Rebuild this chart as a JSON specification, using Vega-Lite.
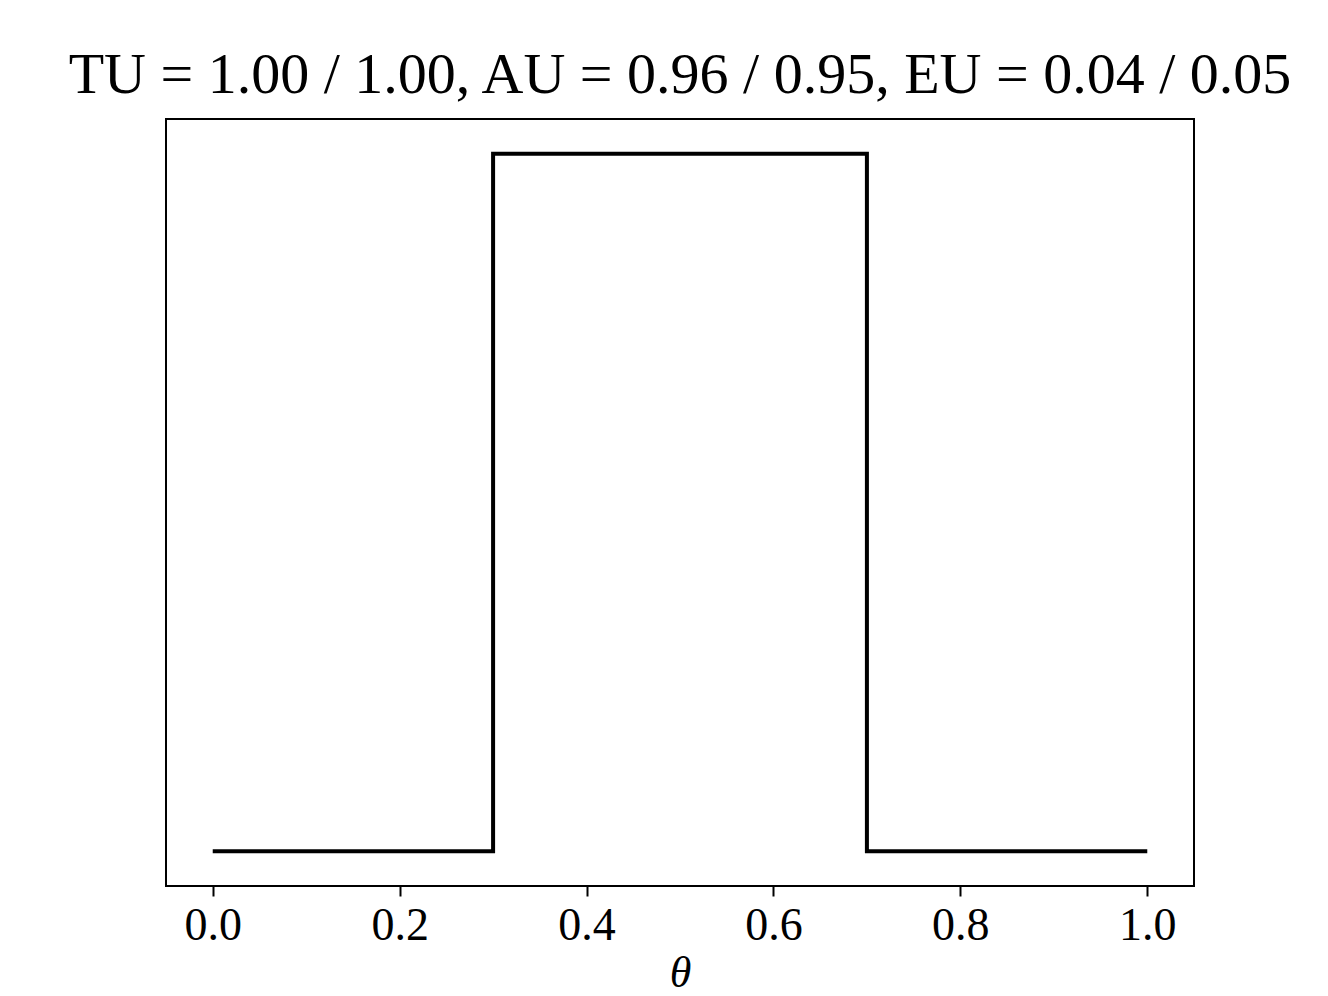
{
  "$schema": "https://vega.github.io/schema/vega-lite/v6.json",
  "autosize": "none",
  "width": 1028,
  "height": 767,
  "padding": {"left": 166, "top": 119, "right": 134, "bottom": 110},
  "background": "white",
  "config": {
    "view": {"stroke": "black", "strokeWidth": 2},
    "font": "Liberation Serif"
  },
  "title": {
    "text": "TU = 1.00 / 1.00, AU = 0.96 / 0.95, EU = 0.04 / 0.05",
    "font": "Liberation Serif",
    "fontSize": 58,
    "fontWeight": "normal",
    "color": "black",
    "offset": 14,
    "anchor": "middle"
  },
  "data": {
    "values": [
      {"i": 0, "theta": 0.0, "density": 0},
      {"i": 1, "theta": 0.3, "density": 0},
      {"i": 2, "theta": 0.3, "density": 2.5},
      {"i": 3, "theta": 0.7, "density": 2.5},
      {"i": 4, "theta": 0.7, "density": 0},
      {"i": 5, "theta": 1.0, "density": 0}
    ]
  },
  "mark": {"type": "line", "color": "black", "strokeWidth": 4, "strokeJoin": "miter", "strokeCap": "butt"},
  "encoding": {
    "order": {"field": "i", "type": "quantitative"},
    "x": {
      "field": "theta",
      "type": "quantitative",
      "scale": {"domain": [-0.05, 1.05], "nice": false, "zero": false},
      "axis": {
        "values": [0, 0.2, 0.4, 0.6, 0.8, 1.0],
        "format": ".1f",
        "grid": false,
        "domain": false,
        "tickColor": "black",
        "tickWidth": 2,
        "tickSize": 10,
        "labelFont": "Liberation Serif",
        "labelFontSize": 46,
        "labelColor": "black",
        "labelPadding": 7,
        "title": "θ",
        "titleFont": "Liberation Serif",
        "titleFontStyle": "italic",
        "titleFontWeight": "normal",
        "titleFontSize": 44,
        "titleColor": "black",
        "titlePadding": 3
      }
    },
    "y": {
      "field": "density",
      "type": "quantitative",
      "scale": {"domain": [-0.125, 2.625], "nice": false, "zero": false},
      "axis": null
    }
  }
}
